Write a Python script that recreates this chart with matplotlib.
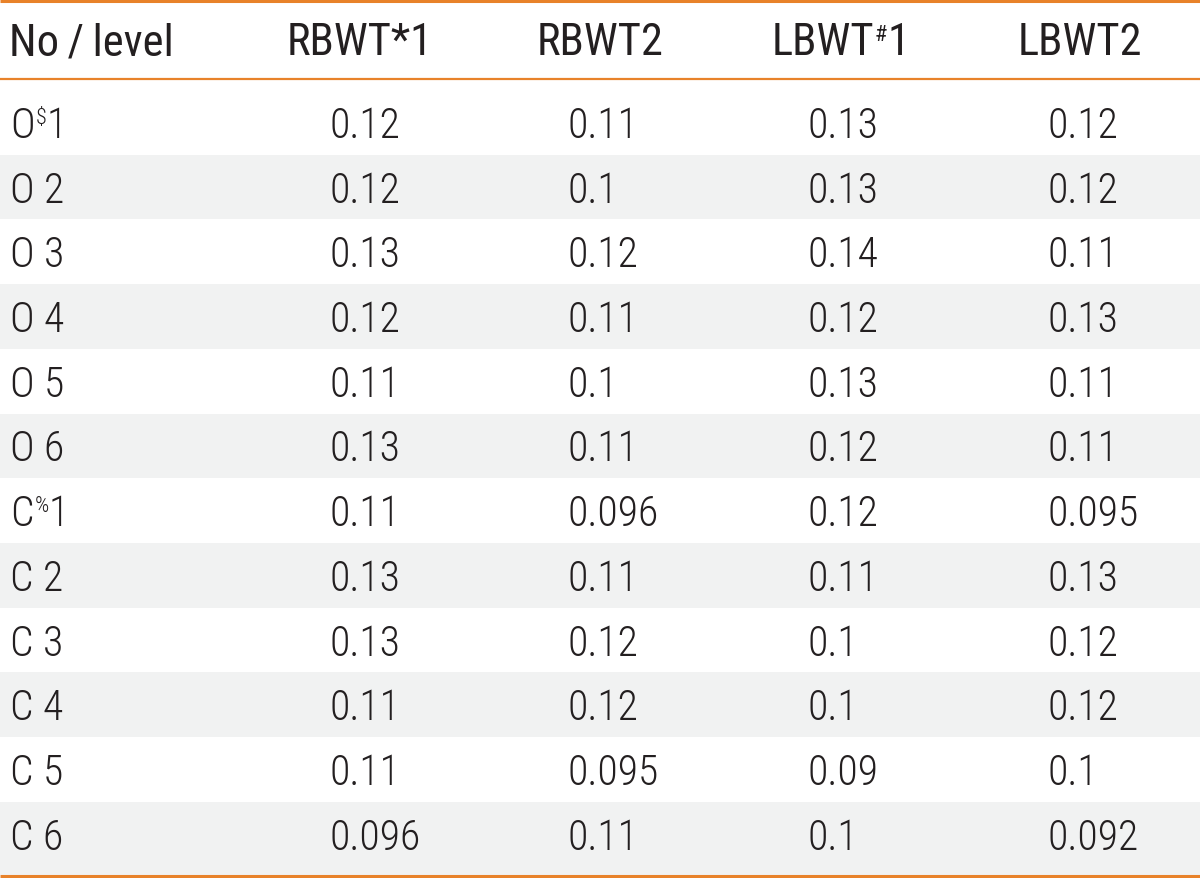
import matplotlib
matplotlib.use("Agg")
import matplotlib.pyplot as plt
from matplotlib.patches import Rectangle

# ---------------- data ----------------
header_first = "No\u2009/\u2009level"
col_headers = [("RBWT*1", "", ""), ("RBWT2", "", ""), ("LBWT", "#", "1"), ("LBWT2", "", "")]
row_labels = [("O", "$", "1"), ("O 2", "", ""), ("O 3", "", ""), ("O 4", "", ""),
              ("O 5", "", ""), ("O 6", "", ""), ("C", "%", "1"), ("C 2", "", ""),
              ("C 3", "", ""), ("C 4", "", ""), ("C 5", "", ""), ("C 6", "", "")]
RBWT1 = [0.12, 0.12, 0.13, 0.12, 0.11, 0.13, 0.11, 0.13, 0.13, 0.11, 0.11, 0.096]
RBWT2 = [0.11, 0.1, 0.12, 0.11, 0.1, 0.11, 0.096, 0.11, 0.12, 0.12, 0.095, 0.11]
LBWT1 = [0.13, 0.13, 0.14, 0.12, 0.13, 0.12, 0.12, 0.11, 0.1, 0.1, 0.09, 0.1]
LBWT2 = [0.12, 0.12, 0.11, 0.13, 0.11, 0.11, 0.095, 0.13, 0.12, 0.12, 0.1, 0.092]
columns = [RBWT1, RBWT2, LBWT1, LBWT2]

# ---------------- style ----------------
FONT = ["Roboto Condensed", "DejaVu Sans"]
FS = 30
HFS = 32
SUP_FS = 16
TXT = "#231f20"
ORANGE = "#e8822a"
SHADE = "#f1f2f2"
HDR_W = 400
BODY_W = 300

W, H = 1200, 879
fig = plt.figure(figsize=(W / 100, H / 100), dpi=100)
ax = fig.add_axes([0, 0, 1, 1])
ax.set_xlim(0, W)
ax.set_ylim(H, 0)
ax.axis("off")

row_top0 = 91.0
pitch = 64.7
n = len(row_labels)

# shading
for i in range(n):
    if i % 2 == 1:
        top = row_top0 + i * pitch
        bot = top + pitch if i < n - 1 else 876
        ax.add_patch(Rectangle((0, top), W, bot - top, color=SHADE, lw=0, zorder=0))

# rules
ax.plot([0, W], [1.5, 1.5], color=ORANGE, lw=2.2, solid_capstyle="butt")
ax.plot([0, W], [80, 80], color=ORANGE, lw=1.6, solid_capstyle="butt")
ax.plot([0, W], [877, 877], color=ORANGE, lw=2.2, solid_capstyle="butt")

fig.canvas.draw()
renderer = fig.canvas.get_renderer()


def width_px(s, fs, wt):
    t = ax.text(0, 0, s, fontsize=fs, family=FONT, weight=wt)
    bb = t.get_window_extent(renderer)
    t.remove()
    return bb.width


def draw_parts(parts, x, y, wt, fs, align="left"):
    base, sup, tail = parts
    wb = width_px(base, fs, wt)
    ws = width_px(sup, SUP_FS, wt) if sup else 0
    wt_ = width_px(tail, fs, wt) if tail else 0
    total = wb + ws + wt_
    if align == "center":
        x = x - total / 2
    ax.text(x, y, base, fontsize=fs, family=FONT, weight=wt, color=TXT,
            va="baseline", ha="left")
    if sup:
        ax.text(x + wb + 1, y - 14, sup, fontsize=SUP_FS, family=FONT, weight=wt,
                color=TXT, va="baseline", ha="left")
        ax.text(x + wb + ws + 1, y, tail, fontsize=fs, family=FONT, weight=wt,
                color=TXT, va="baseline", ha="left")


# header
hdr_base = 55
ax.text(9, hdr_base, header_first, fontsize=HFS, family=FONT, weight=HDR_W,
        color=TXT, va="baseline")
col_centers = [360, 600, 840, 1080]
col_lefts = [330, 568, 808, 1048]
for c, parts in zip(col_centers, col_headers):
    draw_parts(parts, c, hdr_base, HDR_W, HFS, align="center")

# body
for i, parts in enumerate(row_labels):
    yb = 138 + i * pitch
    draw_parts(parts, 10, yb, BODY_W, FS)
    for xl, col in zip(col_lefts, columns):
        ax.text(xl, yb, str(col[i]), fontsize=FS, family=FONT, weight=BODY_W,
                color=TXT, va="baseline", ha="left")

fig.savefig("out.png", dpi=100)
